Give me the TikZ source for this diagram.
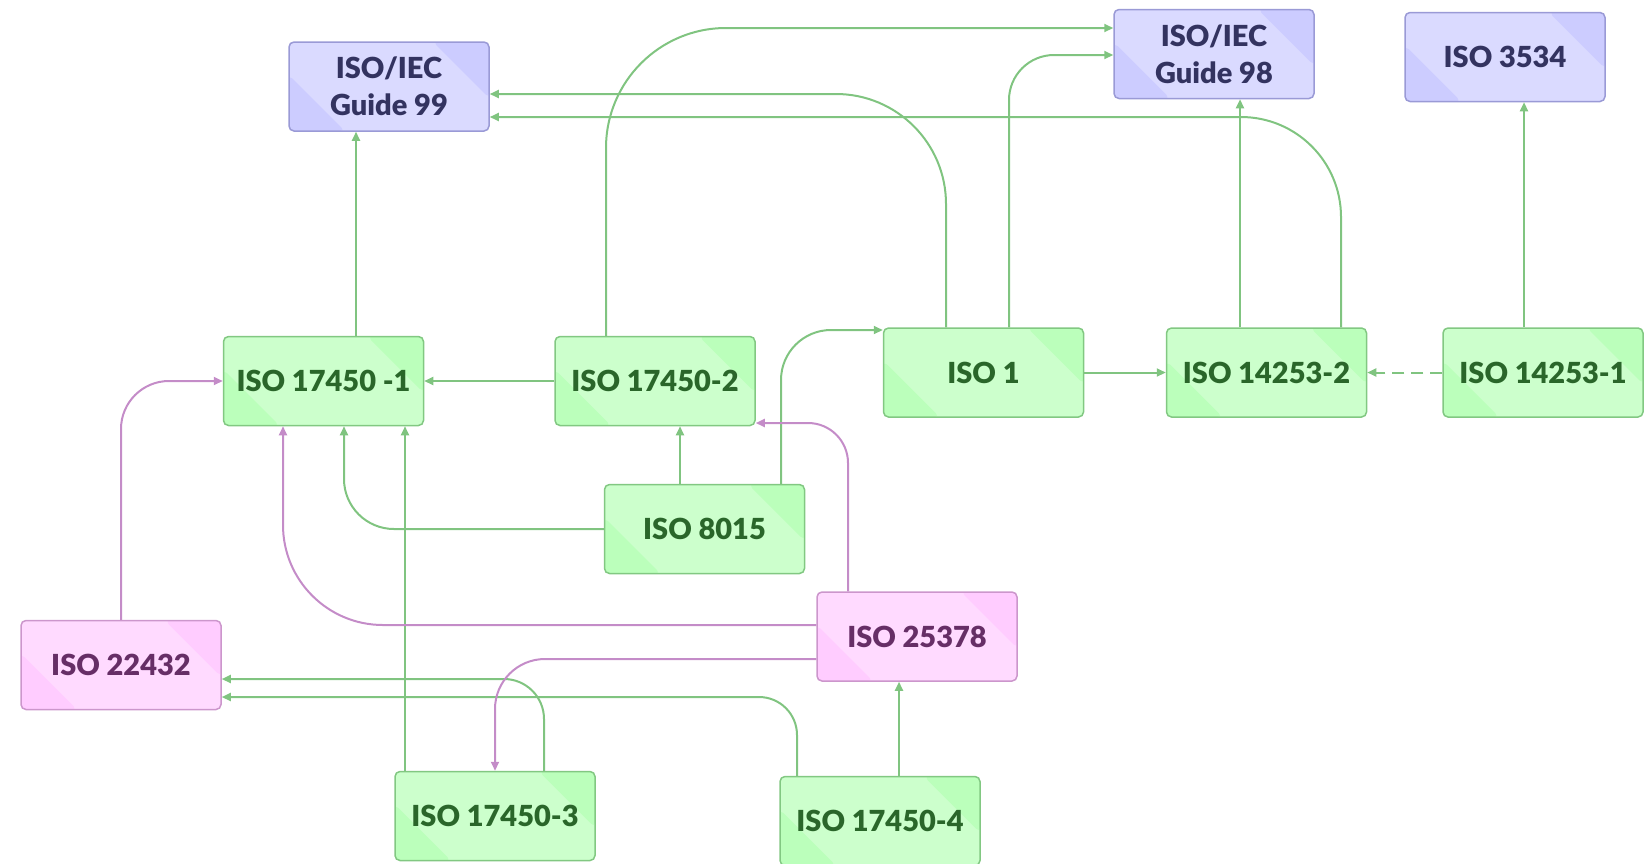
\documentclass[tikz,border=0pt]{standalone}
\usepackage{fontspec}
\setmainfont{Lato}[BoldFont={Lato Black}]
\usetikzlibrary{arrows.meta,calc}
\definecolor{gfill}{HTML}{CCFFCC}
\definecolor{gcorner}{HTML}{BBFFBB}
\definecolor{gborder}{HTML}{82C882}
\definecolor{gtext}{HTML}{2A662A}
\definecolor{pfill}{HTML}{DADAFF}
\definecolor{pcorner}{HTML}{CCCCFF}
\definecolor{pborder}{HTML}{9A9AD6}
\definecolor{ptext}{HTML}{333360}
\definecolor{kfill}{HTML}{FFDAFF}
\definecolor{kcorner}{HTML}{FFCCFF}
\definecolor{kborder}{HTML}{CC96CC}
\definecolor{ktext}{HTML}{662E66}
\definecolor{gline}{HTML}{80C480}
\definecolor{pline}{HTML}{C48CC8}
\tikzset{
  base/.style={draw, line width=1.5pt, rounded corners=5pt, minimum width=200pt,
    minimum height=89pt, inner sep=0pt, align=center,
    font=\fontsize{29}{37}\selectfont\bfseries},
  corners/.style={path picture={
    \fill[#1] (path picture bounding box.north east) -- ++(-56pt,0pt) -- ++(56pt,-56pt) -- cycle;
    \fill[#1] (path picture bounding box.south west) -- ++(56pt,0pt) -- ++(-56pt,56pt) -- cycle;}},
  gnode/.style={base, draw=gborder, fill=gfill, text=gtext, corners=gcorner},
  pnode/.style={base, draw=pborder, fill=pfill, text=ptext, corners=pcorner},
  knode/.style={base, draw=kborder, fill=kfill, text=ktext, corners=kcorner},
  tip/.style={-{Triangle[length=9pt,width=8pt]}},
  gedge/.style={tip, draw=gline, line width=2pt},
  pedge/.style={tip, draw=pline, line width=2pt},
}
\begin{document}
\begin{tikzpicture}[x=1pt,y=-1pt]
\useasboundingbox (0,0) rectangle (1648,863);
% nodes
\node[pnode] (g99) at (389,86.5) {ISO/IEC\\Guide 99};
\node[pnode] (g98) at (1214,54) {ISO/IEC\\Guide 98};
\node[pnode] (i3534) at (1505,57) {ISO 3534};
\node[gnode] (a1) at (323.5,381) {ISO 17450 -1};
\node[gnode] (a2) at (655,381) {ISO 17450-2};
\node[gnode] (iso1) at (983.5,372.5) {ISO 1};
\node[gnode] (b2) at (1266.5,372.5) {ISO 14253-2};
\node[gnode] (b1) at (1543,372.5) {ISO 14253-1};
\node[gnode] (i8015) at (704.5,529) {ISO 8015};
\node[knode] (i25378) at (917,636.5) {ISO 25378};
\node[knode] (i22432) at (121,665) {ISO 22432};
\node[gnode] (a3) at (495,816) {ISO 17450-3};
\node[gnode] (a4) at (880,821) {ISO 17450-4};
% green edges
\draw[gedge] ([xshift=32.5pt]a1.north) -- ([xshift=32.5pt]a1.north |- g99.south);
\draw[gedge] (a2.west) -- (a2.west -| a1.east);
\draw[gedge, rounded corners=120pt] ([xshift=-49pt]a2.north) |- ([yshift=26pt]g98.west);
\draw[gedge, rounded corners=110pt] ([xshift=-37.5pt]iso1.north) |- ([yshift=-7.5pt]g99.east);
\draw[gedge, rounded corners=45pt] ([xshift=25.5pt]iso1.north) |- ([yshift=-1pt]g98.west);
\draw[gedge] ([xshift=-26.5pt]b2.north) -- ([xshift=-26.5pt]b2.north |- g98.south);
\draw[gedge, rounded corners=100pt] ([xshift=74.5pt]b2.north) |- ([yshift=-30.5pt]g99.east);
\draw[gedge] (iso1.east) -- (b2.west);
\draw[gedge, dash pattern=on 12pt off 7pt] (b1.west) -- (b2.east);
\draw[gedge] ([xshift=-19pt]b1.north) -- ([xshift=-19pt]b1.north |- i3534.south);
\draw[gedge] ([xshift=-24.5pt]i8015.north) -- ([xshift=-24.5pt]i8015.north |- a2.south);
\draw[gedge, rounded corners=50pt] ([xshift=76.5pt]i8015.north) |- ([yshift=42.5pt]iso1.west);
\draw[gedge, rounded corners=50pt] (i8015.west) -| ([xshift=20.5pt]a1.south);
\draw[gedge] ([xshift=-90pt]a3.north) -- ([xshift=-90pt]a3.north |- a1.south);
\draw[gedge, rounded corners=40pt] ([xshift=49pt]a3.north) |- ([yshift=-14pt]i22432.east);
\draw[gedge, rounded corners=38pt] ([xshift=-83pt]a4.north) |- ([yshift=-32pt]i22432.east);
\draw[gedge] ([xshift=19pt]a4.north) -- ([xshift=19pt]a4.north |- i25378.south);
% purple edges
\draw[pedge, rounded corners=48pt] (i22432.north) |- (a1.west);
\draw[pedge, rounded corners=100pt] ([yshift=11.5pt]i25378.west) -| ([xshift=-40.5pt]a1.south);
\draw[pedge, rounded corners=40pt] ([xshift=-69pt]i25378.north) |- ([yshift=-42pt]a2.east);
\draw[pedge, rounded corners=50pt] ([yshift=-22.5pt]i25378.west) -| (a3.north);
\end{tikzpicture}
\end{document}
